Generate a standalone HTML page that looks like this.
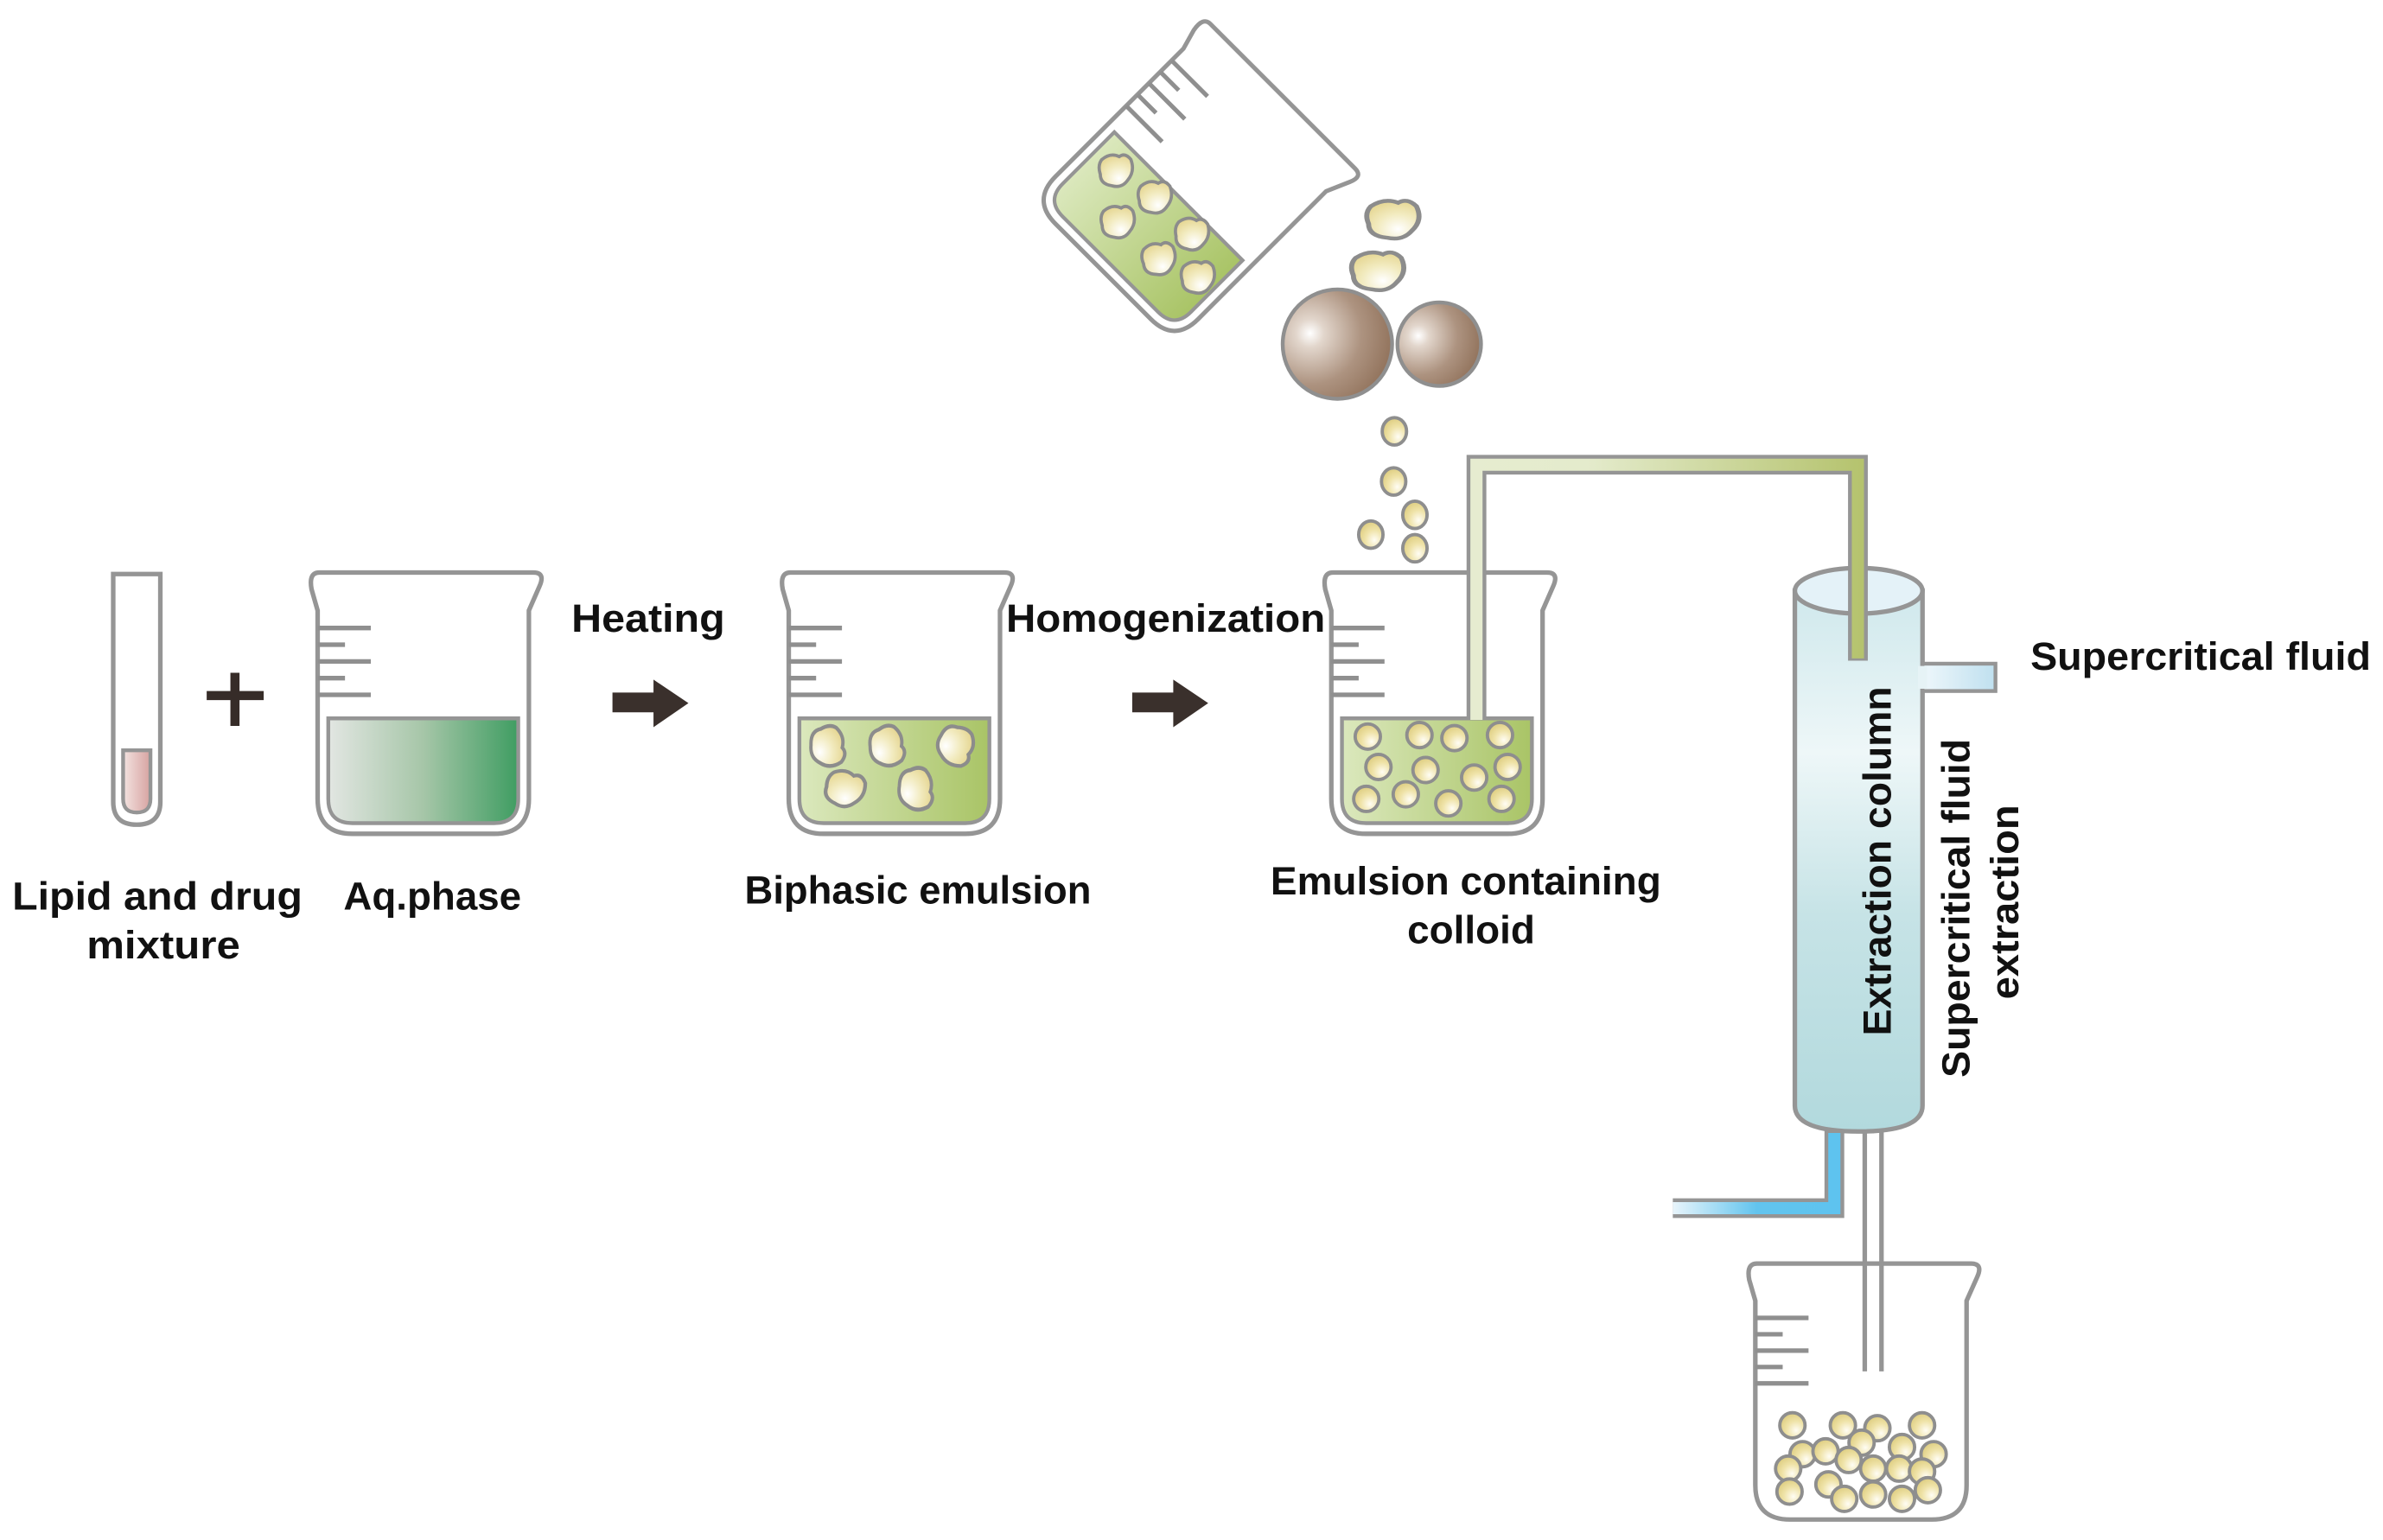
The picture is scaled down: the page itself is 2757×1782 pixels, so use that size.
<!DOCTYPE html>
<html><head><meta charset="utf-8"><style>html,body{margin:0;padding:0;background:#fff;}svg{display:block;}</style></head>
<body>
<svg xmlns="http://www.w3.org/2000/svg" width="2757" height="1782" viewBox="0 0 1568 1014" preserveAspectRatio="none">
<defs>
  <linearGradient id="gGreen" x1="0" x2="1" y1="0" y2="0"><stop offset="0" stop-color="#e2e6e2"/><stop offset="0.5" stop-color="#a6c6a8"/><stop offset="1" stop-color="#3f9d62"/></linearGradient>
  <linearGradient id="gOlive" x1="0" x2="1" y1="0" y2="0"><stop offset="0" stop-color="#dbe8bd"/><stop offset="1" stop-color="#a9c466"/></linearGradient>
  <linearGradient id="gPink" x1="0" x2="1"><stop offset="0" stop-color="#f3e3e1"/><stop offset="1" stop-color="#d7a3a0"/></linearGradient>
  <radialGradient id="gFlake" cx="0.6" cy="0.75" r="0.8"><stop offset="0" stop-color="#ffffff"/><stop offset="0.5" stop-color="#f2ebc0"/><stop offset="1" stop-color="#e4d48e"/></radialGradient>
  <radialGradient id="gBall" cx="0.65" cy="0.7" r="0.75"><stop offset="0" stop-color="#fffdf4"/><stop offset="0.5" stop-color="#efe3a8"/><stop offset="1" stop-color="#dccb7c"/></radialGradient>
  <radialGradient id="gBrown" cx="0.25" cy="0.4" r="0.85"><stop offset="0" stop-color="#ffffff"/><stop offset="0.15" stop-color="#e2d6cc"/><stop offset="0.55" stop-color="#ad9380"/><stop offset="1" stop-color="#8a6a52"/></radialGradient>
  <linearGradient id="gCol" x1="0" x2="0" y1="0" y2="1"><stop offset="0" stop-color="#cfe8ec"/><stop offset="0.3" stop-color="#eef7f8"/><stop offset="0.6" stop-color="#c6e3e6"/><stop offset="1" stop-color="#b2d9dd"/></linearGradient>
  <linearGradient id="gTube" gradientUnits="userSpaceOnUse" x1="965" y1="0" x2="1229" y2="0"><stop offset="0" stop-color="#e6ecd0"/><stop offset="0.3" stop-color="#e4ebcc"/><stop offset="1" stop-color="#b4c26c"/></linearGradient>
  <linearGradient id="gBlue" gradientUnits="userSpaceOnUse" x1="1100" y1="0" x2="1212" y2="0"><stop offset="0" stop-color="#eaf5fb"/><stop offset="0.5" stop-color="#62c4ee"/><stop offset="1" stop-color="#5ec3ef"/></linearGradient>
  <linearGradient id="gSide" x1="0" x2="1"><stop offset="0" stop-color="#eef7fb"/><stop offset="1" stop-color="#bfe0ef"/></linearGradient>
  <g id="bk">
    <path d="M6,1 L147,1 Q155,1 151,10 L144,26 L144,150 Q144,173 121,173 L28,173 Q5,173 5,150 L5,26 L1,12 Q-1,1 6,1 Z" fill="#fff" stroke="#959595" stroke-width="3"/>
    <path d="M5,37.5 H40 M5,48.5 H23 M5,59.5 H40 M5,70.5 H23 M5,81.5 H40" stroke="#8f8f8f" stroke-width="3" fill="none"/>
  </g>
  <path id="liq" d="M12,97 L137,97 L137,150 Q137,166 121,166 L28,166 Q12,166 12,150 Z"/>
  <path id="fl" d="M-10,-8 Q-4,-13 2,-10 Q6,-13 10,-8 Q13,0 8,6 Q4,12 -3,10 Q-11,9 -11,2 Q-13,-4 -10,-8 Z" fill="url(#gFlake)" stroke="#8c8c8c" stroke-width="2.2"/>
  <circle id="bl" r="8.3" fill="url(#gBall)" stroke="#8e8e8e" stroke-width="2.2"/>
</defs>

<!-- test tube -->
<path d="M74.5,378 L105.5,378 L105.5,528 Q105.5,543 90,543 Q74.5,543 74.5,528 Z" fill="#fff" stroke="#959595" stroke-width="3"/>
<path d="M81,494 L99,494 L99,526 Q99,535 90,535 Q81,535 81,526 Z" fill="url(#gPink)" stroke="#959595" stroke-width="2.5"/>
<!-- plus -->
<path d="M136,458 H173.5 M154.6,443 V478" stroke="#362c28" stroke-width="6"/>

<!-- beaker 1 -->
<g transform="translate(204,376)"><use href="#bk"/><use href="#liq" fill="url(#gGreen)" stroke="#959595" stroke-width="2.5"/></g>
<!-- beaker 2 -->
<g transform="translate(514,376)"><use href="#bk"/><use href="#liq" fill="url(#gOlive)" stroke="#959595" stroke-width="2.5"/></g>
<g transform="translate(544,492) scale(1.0,1.15) rotate(80)"><use href="#fl"/></g>
<g transform="translate(583,492) scale(1.0,1.15) rotate(75)"><use href="#fl"/></g>
<g transform="translate(628,491) scale(1.05,1.1) rotate(110)"><use href="#fl"/></g>
<g transform="translate(556,520) scale(1.1,1.05) rotate(20)"><use href="#fl"/></g>
<g transform="translate(602,520) scale(1.0,1.2) rotate(85)"><use href="#fl"/></g>
<!-- beaker 3 -->
<g transform="translate(871,376)"><use href="#bk"/><use href="#liq" fill="url(#gOlive)" stroke="#959595" stroke-width="2.5"/></g>
<use href="#bl" x="900" y="485"/><use href="#bl" x="934" y="484"/><use href="#bl" x="957" y="486"/><use href="#bl" x="987" y="484"/>
<use href="#bl" x="907" y="505"/><use href="#bl" x="938" y="507"/><use href="#bl" x="970" y="512"/><use href="#bl" x="992" y="505"/>
<use href="#bl" x="899" y="526"/><use href="#bl" x="925" y="523"/><use href="#bl" x="953" y="529"/><use href="#bl" x="988" y="526"/>

<!-- arrows -->
<polygon points="403,456 430,456 430,447.5 453,463 430,478.8 430,469 403,469" fill="#3a302c"/>
<polygon points="745,456 772,456 772,447.5 795,463 772,478.8 772,469 745,469" fill="#3a302c"/>

<!-- tilted beaker -->
<g transform="translate(793,11) rotate(45) scale(0.955,0.96)">
  <use href="#bk"/>
  <path d="M12,100 L137,100 L137,150 Q137,166 121,166 L28,166 Q12,166 12,150 Z" fill="url(#gOlive)" stroke="#959595" stroke-width="2.5"/>
  <g transform="translate(32,118) rotate(-45)"><use href="#fl"/></g>
  <g transform="translate(64,112) rotate(-45)"><use href="#fl"/></g>
  <g transform="translate(100,112) rotate(-40)"><use href="#fl"/></g>
  <g transform="translate(58,142) rotate(-45)"><use href="#fl"/></g>
  <g transform="translate(96,140) rotate(-50)"><use href="#fl"/></g>
  <g transform="translate(124,130) rotate(-45)"><use href="#fl"/></g>
</g>
<!-- falling flakes & spheres -->
<g transform="translate(917,145) scale(1.5,1.15)"><use href="#fl"/></g>
<g transform="translate(907,179) scale(1.5,1.15)"><use href="#fl"/></g>
<circle cx="880" cy="226.6" r="36" fill="url(#gBrown)" stroke="#8f8f8f" stroke-width="2.5"/>
<circle cx="947" cy="226.6" r="27.5" fill="url(#gBrown)" stroke="#8f8f8f" stroke-width="2.5"/>
<ellipse cx="917.5" cy="284" rx="8" ry="9" fill="url(#gBall)" stroke="#8e8e8e" stroke-width="2.2"/>
<ellipse cx="917" cy="317" rx="8" ry="9" fill="url(#gBall)" stroke="#8e8e8e" stroke-width="2.2"/>
<ellipse cx="931" cy="339" rx="8" ry="9" fill="url(#gBall)" stroke="#8e8e8e" stroke-width="2.2"/>
<ellipse cx="902" cy="352" rx="8" ry="9" fill="url(#gBall)" stroke="#8e8e8e" stroke-width="2.2"/>
<ellipse cx="931" cy="361" rx="8" ry="9" fill="url(#gBall)" stroke="#8e8e8e" stroke-width="2.2"/>

<!-- extraction column -->
<path d="M1181,389 L1181,728 Q1181,745 1223,745 Q1265,745 1265,728 L1265,389 Z" fill="url(#gCol)" stroke="#959595" stroke-width="3"/>
<ellipse cx="1223" cy="389" rx="42" ry="15" fill="#e4f2f8" stroke="#959595" stroke-width="3"/>
<rect x="1265" y="437" width="48" height="18" fill="url(#gSide)" stroke="#959595" stroke-width="2.5"/>
<rect x="1262" y="438.5" width="6" height="15" fill="#e6f3f6"/>

<!-- olive tube -->
<polyline points="971.5,473 971.5,306 1222.5,306 1222.5,435" fill="none" stroke="#959595" stroke-width="13" stroke-linejoin="miter"/>
<polyline points="971.5,474 971.5,306 1222.5,306 1222.5,433.5" fill="none" stroke="url(#gTube)" stroke-width="8" stroke-linejoin="miter"/>

<!-- blue pipe -->
<polyline points="1100.7,795.5 1207,795.5 1207,744" fill="none" stroke="#959595" stroke-width="13"/>
<polyline points="1100.7,795.5 1207,795.5 1207,746" fill="none" stroke="url(#gBlue)" stroke-width="8"/>
<!-- grey lines -->
<path d="M1227,745 V903 M1238,745 V903" stroke="#959595" stroke-width="3"/>

<!-- beaker 4 -->
<g transform="translate(1150,831) scale(1,0.98)"><use href="#bk"/></g>
<path d="M1227,831 V903 M1238,831 V903" stroke="#959595" stroke-width="3"/>
<g>
<use href="#bl" x="1179.4" y="938.5"/><use href="#bl" x="1212.6" y="938.5"/><use href="#bl" x="1235.3" y="940.4"/><use href="#bl" x="1264.7" y="938.5"/>
<use href="#bl" x="1186.1" y="957.5"/><use href="#bl" x="1201.2" y="955.6"/><use href="#bl" x="1224.9" y="949.9"/><use href="#bl" x="1251.5" y="952.8"/><use href="#bl" x="1272.3" y="957.5"/>
<use href="#bl" x="1176.6" y="967"/><use href="#bl" x="1216.4" y="961.3"/><use href="#bl" x="1232.5" y="967"/><use href="#bl" x="1249.6" y="967"/><use href="#bl" x="1264.7" y="968.9"/>
<use href="#bl" x="1177.5" y="982.1"/><use href="#bl" x="1203.1" y="977.4"/><use href="#bl" x="1213.5" y="986.9"/><use href="#bl" x="1232.5" y="984"/><use href="#bl" x="1251.5" y="986.9"/><use href="#bl" x="1268.5" y="981.2"/>
</g>

<!-- labels -->
<g font-family="'Liberation Sans', sans-serif" font-weight="bold" font-size="26" fill="#111">
  <text x="376" y="416" textLength="101" lengthAdjust="spacingAndGlyphs">Heating</text>
  <text x="662" y="416" textLength="210" lengthAdjust="spacingAndGlyphs">Homogenization</text>
  <text x="8" y="599" textLength="191" lengthAdjust="spacingAndGlyphs">Lipid  and drug</text>
  <text x="57" y="631" textLength="101" lengthAdjust="spacingAndGlyphs">mixture</text>
  <text x="226" y="599" textLength="117" lengthAdjust="spacingAndGlyphs">Aq.phase</text>
  <text x="490" y="595" textLength="228" lengthAdjust="spacingAndGlyphs">Biphasic emulsion</text>
  <text x="836" y="589" textLength="257" lengthAdjust="spacingAndGlyphs">Emulsion containing</text>
  <text x="926" y="621" textLength="84" lengthAdjust="spacingAndGlyphs">colloid</text>
  <text x="1336" y="441" textLength="224" lengthAdjust="spacingAndGlyphs">Supercritical fluid</text>
  <text transform="translate(1244,567) rotate(-90)" text-anchor="middle" textLength="230" lengthAdjust="spacingAndGlyphs">Extraction column</text>
  <text transform="translate(1296,598) rotate(-90)" text-anchor="middle" textLength="223" lengthAdjust="spacingAndGlyphs">Supercritical fluid</text>
  <text transform="translate(1328,594) rotate(-90)" text-anchor="middle" textLength="128" lengthAdjust="spacingAndGlyphs">extraction</text>
</g>
</svg>
</body></html>
